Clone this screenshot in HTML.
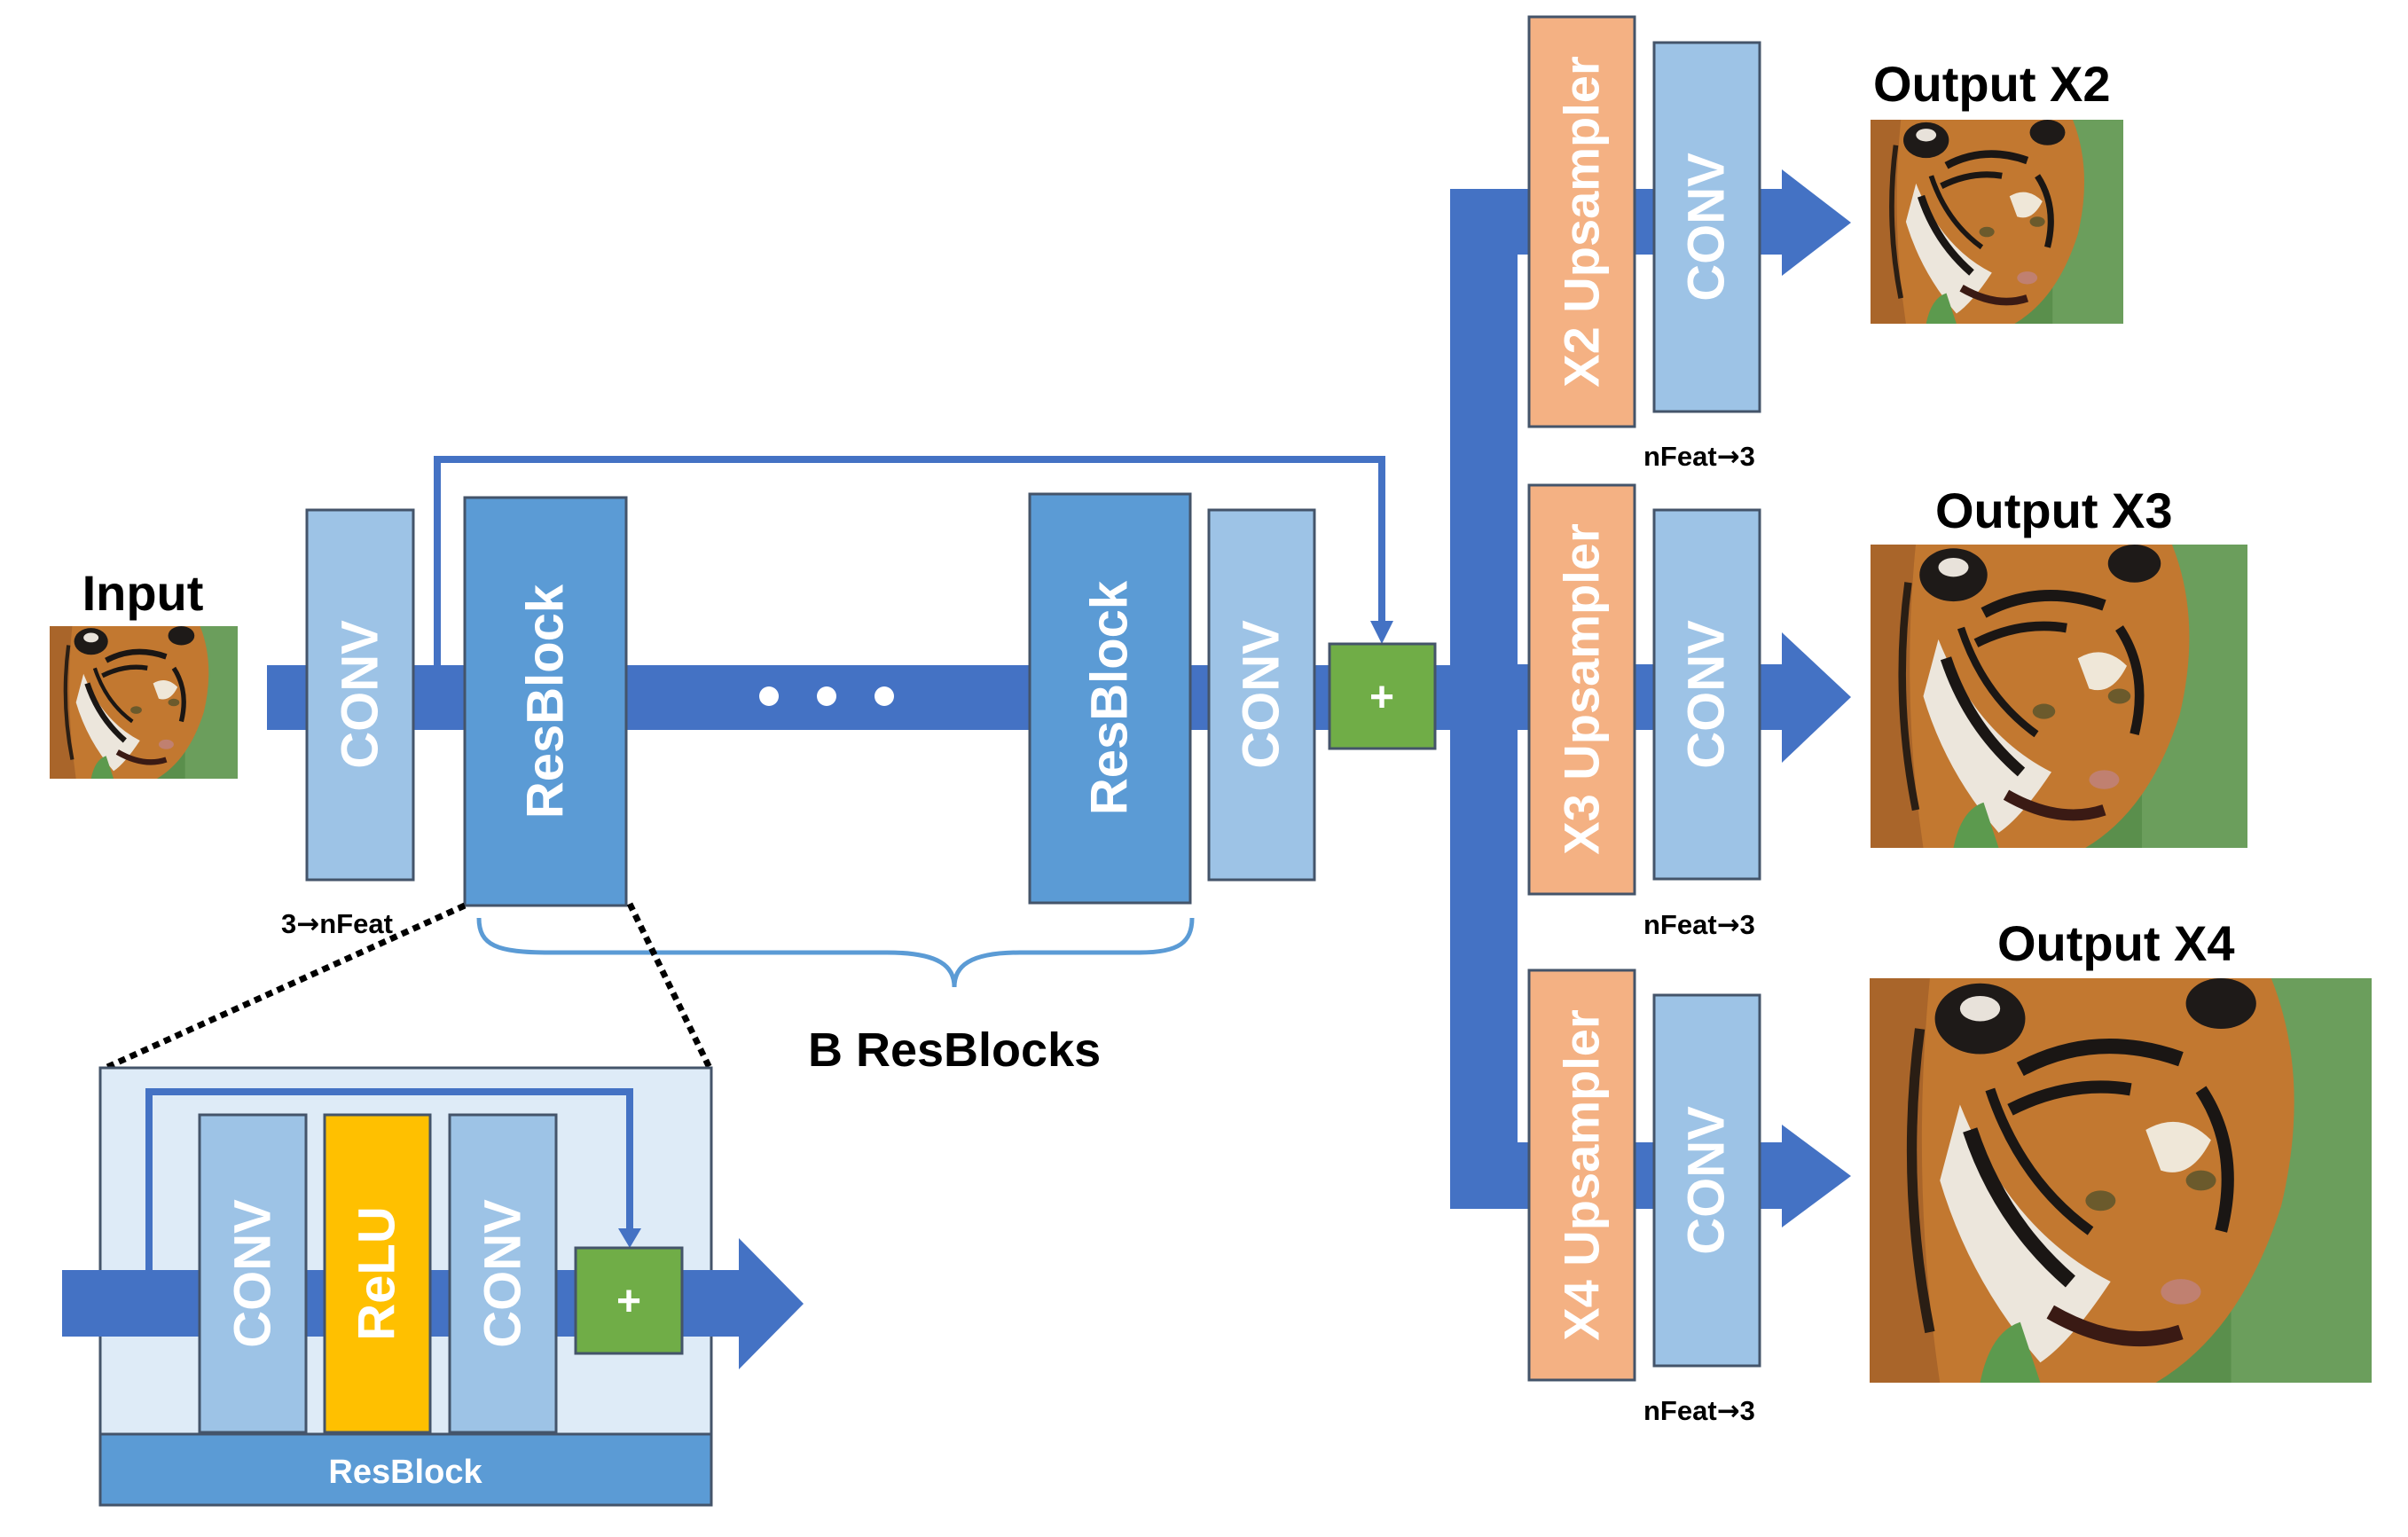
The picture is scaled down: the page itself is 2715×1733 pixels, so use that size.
<!DOCTYPE html>
<html><head><meta charset="utf-8"><style>
html,body{margin:0;padding:0;background:#fff;}
svg{display:block;}
text{font-family:"Liberation Sans",sans-serif;font-weight:bold;}
.ar{font-family:"DejaVu Sans",sans-serif;font-weight:bold;}
</style></head><body>
<svg width="2715" height="1733" viewBox="0 0 2715 1733" xmlns="http://www.w3.org/2000/svg">
<defs>
<symbol id="tiger" viewBox="0 0 100 80" preserveAspectRatio="none">
  <rect x="0" y="0" width="100" height="80" fill="#5a8f4c"/>
  <rect x="72" y="0" width="28" height="80" fill="#6b9e5c"/>
  <path d="M0,0 L80,0 Q88,20 82,45 Q74,70 57,80 L0,80 Z" fill="#c27830"/>
  <path d="M0,0 L12,0 Q8,40 14,80 L0,80 Z" fill="#a9652a"/>
  <ellipse cx="22" cy="8" rx="9" ry="7" fill="#1e1a18"/>
  <ellipse cx="22" cy="6" rx="4" ry="2.5" fill="#e8e2da"/>
  <ellipse cx="70" cy="5" rx="7" ry="5" fill="#1e1a18"/>
  <path d="M18,25 Q28,50 48,60 Q40,72 34,76 Q20,60 14,40 Z" fill="#ece6dc"/>
  <path d="M55,30 Q62,26 68,32 Q64,40 58,38 Z" fill="#efe7d8"/>
  <path d="M30,18 Q45,10 62,16" stroke="#1a1614" stroke-width="3" fill="none"/>
  <path d="M28,26 Q40,20 52,22" stroke="#1a1614" stroke-width="2.5" fill="none"/>
  <path d="M20,30 Q26,48 40,60" stroke="#1a1614" stroke-width="3" fill="none"/>
  <path d="M24,22 Q30,40 44,50" stroke="#1a1614" stroke-width="2" fill="none"/>
  <path d="M66,22 Q74,34 70,50" stroke="#1a1614" stroke-width="2.5" fill="none"/>
  <path d="M10,10 Q6,40 12,70" stroke="#2a1e14" stroke-width="2" fill="none"/>
  <ellipse cx="46" cy="44" rx="3" ry="2" fill="#6b5a2c"/>
  <ellipse cx="66" cy="40" rx="3" ry="2" fill="#6b5a2c"/>
  <ellipse cx="62" cy="62" rx="4" ry="2.5" fill="#c08070"/>
  <path d="M36,66 Q50,74 62,70" stroke="#3a1a14" stroke-width="3" fill="none"/>
  <path d="M22,80 Q24,70 30,68 L34,80 Z" fill="#5c9a4e"/>
</symbol>
</defs>

<rect x="301" y="750" width="1410" height="73" fill="#4472C4"/>
<rect x="1635" y="213" width="76" height="1150" fill="#4472C4"/>
<rect x="1635" y="213" width="374" height="74" fill="#4472C4"/>
<polygon points="2009,191 2087,251 2009,311" fill="#4472C4"/>
<rect x="1635" y="749" width="374" height="74" fill="#4472C4"/>
<polygon points="2009,713 2087,786 2009,860" fill="#4472C4"/>
<rect x="1635" y="1288" width="374" height="75" fill="#4472C4"/>
<polygon points="2009,1268 2087,1326 2009,1384" fill="#4472C4"/>

<polyline points="493,750 493,518 1558,518 1558,702" fill="none" stroke="#4472C4" stroke-width="8"/>
<polygon points="1545,700 1571,700 1558,726" fill="#4472C4"/>

<text x="161" y="688" font-size="56" text-anchor="middle" fill="#000">Input</text>
<use href="#tiger" x="56" y="706" width="212" height="172"/>

<rect x="346" y="575" width="120" height="417" fill="#9DC3E6" stroke="#44546A" stroke-width="3"/>
<text transform="translate(406,783) rotate(-90)" font-size="58" fill="#fff" text-anchor="middle" dominant-baseline="central">CONV</text>
<rect x="524" y="561" width="182" height="460" fill="#5B9BD5" stroke="#44546A" stroke-width="3"/>
<text transform="translate(615,791) rotate(-90)" font-size="58" fill="#fff" text-anchor="middle" dominant-baseline="central">ResBlock</text>
<circle cx="867" cy="785" r="11" fill="#fff"/>
<circle cx="932" cy="785" r="11" fill="#fff"/>
<circle cx="997" cy="785" r="11" fill="#fff"/>
<rect x="1161" y="557" width="181" height="461" fill="#5B9BD5" stroke="#44546A" stroke-width="3"/>
<text transform="translate(1251,787) rotate(-90)" font-size="58" fill="#fff" text-anchor="middle" dominant-baseline="central">ResBlock</text>
<rect x="1363" y="575" width="119" height="417" fill="#9DC3E6" stroke="#44546A" stroke-width="3"/>
<text transform="translate(1422,783) rotate(-90)" font-size="58" fill="#fff" text-anchor="middle" dominant-baseline="central">CONV</text>
<rect x="1499" y="726" width="119" height="118" fill="#70AD47" stroke="#44546A" stroke-width="3"/>
<text x="1558" y="802" font-size="48" fill="#fff" text-anchor="middle">+</text>

<text x="317" y="1052" font-size="31" fill="#000">3<tspan class="ar">→</tspan>nFeat</text>

<path d="M540,1035 C540,1066 560,1074 620,1074 L1000,1074 C1060,1074 1076,1090 1076,1113 C1076,1090 1092,1074 1150,1074 L1285,1074 C1330,1074 1344,1062 1344,1035" fill="none" stroke="#5B9BD5" stroke-width="5"/>
<text x="911" y="1202" font-size="54" fill="#000">B ResBlocks</text>

<line x1="524" y1="1021" x2="119" y2="1204" stroke="#000" stroke-width="7" stroke-dasharray="8 6"/>
<line x1="710" y1="1019" x2="800" y2="1204" stroke="#000" stroke-width="7" stroke-dasharray="8 6"/>

<rect x="113" y="1204" width="689" height="413" fill="#DEEBF7" stroke="#44546A" stroke-width="3"/>
<rect x="113" y="1617" width="689" height="80" fill="#5B9BD5" stroke="#44546A" stroke-width="3"/>
<text x="457" y="1672" font-size="38" fill="#fff" text-anchor="middle">ResBlock</text>
<rect x="70" y="1432" width="763" height="75" fill="#4472C4"/>
<polygon points="833,1396 906,1470 833,1544" fill="#4472C4"/>
<polyline points="168,1432 168,1231 710,1231 710,1388" fill="none" stroke="#4472C4" stroke-width="8"/>
<polygon points="697,1385 723,1385 710,1407" fill="#4472C4"/>
<rect x="225" y="1257" width="120" height="358" fill="#9DC3E6" stroke="#44546A" stroke-width="3"/>
<text transform="translate(285,1436) rotate(-90)" font-size="58" fill="#fff" text-anchor="middle" dominant-baseline="central">CONV</text>
<rect x="366" y="1257" width="119" height="358" fill="#FFC000" stroke="#44546A" stroke-width="3"/>
<text transform="translate(425,1436) rotate(-90)" font-size="58" fill="#fff" text-anchor="middle" dominant-baseline="central">ReLU</text>
<rect x="507" y="1257" width="120" height="358" fill="#9DC3E6" stroke="#44546A" stroke-width="3"/>
<text transform="translate(567,1436) rotate(-90)" font-size="58" fill="#fff" text-anchor="middle" dominant-baseline="central">CONV</text>
<rect x="649" y="1407" width="120" height="119" fill="#70AD47" stroke="#44546A" stroke-width="3"/>
<text x="709" y="1483" font-size="48" fill="#fff" text-anchor="middle">+</text>

<rect x="1724" y="19" width="119" height="462" fill="#F4B183" stroke="#44546A" stroke-width="3"/>
<text transform="translate(1783,250) rotate(-90)" font-size="56" fill="#fff" text-anchor="middle" dominant-baseline="central">X2 Upsampler</text>
<rect x="1865" y="48" width="119" height="416" fill="#9DC3E6" stroke="#44546A" stroke-width="3"/>
<text transform="translate(1924,256) rotate(-90)" font-size="58" fill="#fff" text-anchor="middle" dominant-baseline="central">CONV</text>
<text x="1853" y="525" font-size="31" fill="#000">nFeat<tspan class="ar">→</tspan>3</text>

<rect x="1724" y="547" width="119" height="461" fill="#F4B183" stroke="#44546A" stroke-width="3"/>
<text transform="translate(1783,777) rotate(-90)" font-size="56" fill="#fff" text-anchor="middle" dominant-baseline="central">X3 Upsampler</text>
<rect x="1865" y="575" width="119" height="416" fill="#9DC3E6" stroke="#44546A" stroke-width="3"/>
<text transform="translate(1924,783) rotate(-90)" font-size="58" fill="#fff" text-anchor="middle" dominant-baseline="central">CONV</text>
<text x="1853" y="1053" font-size="31" fill="#000">nFeat<tspan class="ar">→</tspan>3</text>

<rect x="1724" y="1094" width="119" height="462" fill="#F4B183" stroke="#44546A" stroke-width="3"/>
<text transform="translate(1783,1325) rotate(-90)" font-size="56" fill="#fff" text-anchor="middle" dominant-baseline="central">X4 Upsampler</text>
<rect x="1865" y="1122" width="119" height="418" fill="#9DC3E6" stroke="#44546A" stroke-width="3"/>
<text transform="translate(1924,1331) rotate(-90)" font-size="58" fill="#fff" text-anchor="middle" dominant-baseline="central">CONV</text>
<text x="1853" y="1601" font-size="31" fill="#000">nFeat<tspan class="ar">→</tspan>3</text>

<text x="2112" y="114" font-size="56" fill="#000">Output X2</text>
<use href="#tiger" x="2109" y="135" width="285" height="230"/>
<text x="2182" y="595" font-size="56" fill="#000">Output X3</text>
<use href="#tiger" x="2109" y="614" width="425" height="342"/>
<text x="2252" y="1083" font-size="56" fill="#000">Output X4</text>
<use href="#tiger" x="2108" y="1103" width="566" height="456"/>
</svg>
</body></html>
